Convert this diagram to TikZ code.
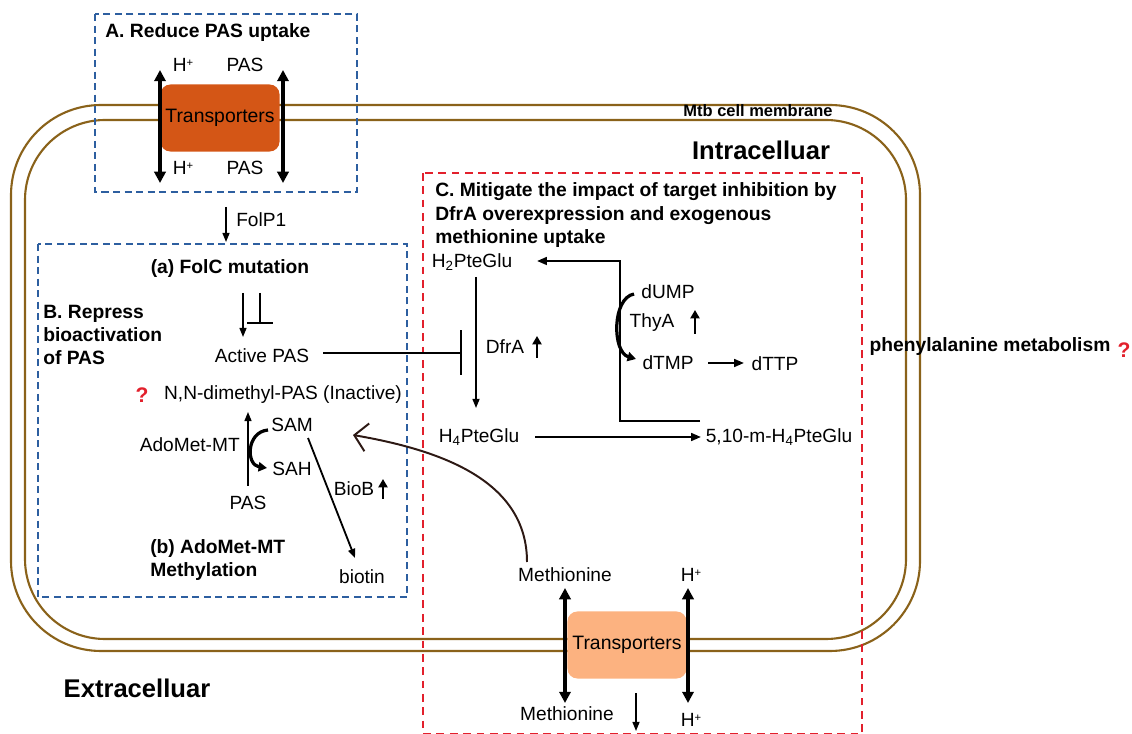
\documentclass[tikz,border=0pt]{standalone}
\usepackage{fontspec}
\setmainfont{Liberation Sans}
\usetikzlibrary{arrows.meta,positioning}

\definecolor{membranebrown}{RGB}{138,98,26}
\definecolor{dashblue}{RGB}{45,95,160}
\definecolor{dashred}{RGB}{226,32,44}
\definecolor{porterdark}{RGB}{212,86,22}
\definecolor{porterlight}{RGB}{252,178,128}
\definecolor{metcurve}{RGB}{45,25,20}

\newcommand{\proton}{H\raisebox{0.55ex}{\fontsize{8}{8}\selectfont +}}

\tikzset{
  lbl/.style={font=\fontsize{13.6}{16}\selectfont, inner sep=0pt},
  head/.style={font=\fontsize{13.7}{16.5}\selectfont\bfseries, inner sep=0pt, align=left},
  region/.style={font=\fontsize{18.2}{20}\selectfont\bfseries, inner sep=0pt},
  qmark/.style={font=\fontsize{15}{16}\selectfont\bfseries, text=dashred, inner sep=0pt},
  membrane/.style={draw=membranebrown, line width=1.5pt},
  groupB/.style={draw=dashblue, line width=1.2pt, dash pattern=on 5pt off 3.2pt},
  groupC/.style={draw=dashred, line width=1.1pt, dash pattern=on 5.5pt off 4pt},
  porter/.style={rounded corners=7pt, minimum width=2.975cm, minimum height=1.675cm,
    font=\fontsize{13.8}{16}\selectfont, inner sep=0pt},
  flux/.style={line width=2.2pt, {Triangle[length=8pt,width=8pt]}-{Triangle[length=8pt,width=8pt]}},
  rxn/.style={line width=1.1pt, -{Triangle[length=6.5pt,width=5pt]}},
  rxnbold/.style={line width=1.5pt, -{Triangle[length=7pt,width=5.5pt]}},
  upreg/.style={line width=2pt, -{Triangle[length=6pt,width=6.5pt]}},
  cosub/.style={line width=2.3pt, -{Triangle[length=6pt,width=6.5pt]}},
}

\begin{document}
\begin{tikzpicture}[x=0.025cm, y=-0.025cm]
\useasboundingbox (0,0) rectangle (1132,734);

% cell envelope
\draw[membrane, rounded corners=2.25cm] (11,105) rectangle (920,651);
\draw[membrane, rounded corners=2cm] (25,120) rectangle (906,639);
\node[font=\fontsize{11.7}{13}\selectfont\bfseries, inner sep=0pt] (mtb) at (758,111) {Mtb cell membrane};
\node[region] (intra) at (761,150) {Intracelluar};
\node[region] (extra) at (137,688) {Extracelluar};

% boxes
\draw[groupB] (95,14) rectangle (357,192);
\draw[groupB] (38,244) rectangle (407,597);
\draw[groupC] (423,173) rectangle (862,734);

% A. uptake through the transporter
\node[head, anchor=west] (headA) at (105,33) {A. Reduce PAS uptake};
\node[porter, fill=porterdark] (portA) at (220,118) {Transporters};
\node[lbl] (hinA) at (183,65) {\proton};
\node[lbl] (pasinA) at (245,65) {PAS};
\node[lbl] (houtA) at (183,168) {\proton};
\node[lbl] (pasoutA) at (245,168) {PAS};
\coordinate (hA1) at (160,70);  \coordinate (hA2) at (160,183);
\coordinate (pA1) at (283,70);  \coordinate (pA2) at (283,183);
\draw[flux] (hA1) -- (hA2);
\draw[flux] (pA1) -- (pA2);

% FolP1 step
\coordinate (f1) at (226,207); \coordinate (f2) at (226,242);
\draw[rxn] (f1) -- (f2);
\node[lbl, anchor=west] (folp) at (236,220) {FolP1};

% B. bioactivation
\node[head, anchor=west, font=\fontsize{13.7}{16.3}\selectfont\bfseries] (headB) at (43,335)
  {B. Repress\\bioactivation\\of PAS};
\node[head] (folc) at (230,269) {(a) FolC mutation};
\coordinate (fc1) at (243,293); \coordinate (fc2) at (243,337);
\coordinate (fc3) at (260,293); \coordinate (fc4) at (260,324);
\draw[rxn] (fc1) -- (fc2);
\draw[line width=1.1pt, -{Bar[width=18pt]}] (fc3) -- (fc4);
\node[lbl] (active) at (262,356) {Active PAS};
\node[qmark] (q1) at (142,395) {?};
\node[lbl] (nnd) at (283,395) {N,N-dimethyl-PAS (Inactive)};
\node[lbl] (pasb) at (248,503) {PAS};
\node[lbl, anchor=east] (adomet) at (240,445) {AdoMet-MT};
\node[lbl] (sam) at (292,425) {SAM};
\node[lbl] (sah) at (292,469) {SAH};
\coordinate (m1) at (248,486); \coordinate (m2) at (248,412);
\draw[rxn] (m1) -- (m2);
\coordinate (s1) at (268,430); \coordinate (s2) at (267,468);
\draw[cosub] (s1) .. controls (246,432) and (246,465) .. (s2);
\coordinate (b1) at (308,438); \coordinate (b2) at (355,558);
\draw[line width=1.3pt, -{Triangle[length=6.5pt,width=5pt]}] (b1) -- (b2);
\node[lbl] (biob) at (354,489) {BioB};
\coordinate (bu1) at (383,499); \coordinate (bu2) at (383,479);
\draw[upreg] (bu1) -- (bu2);
\node[lbl] (biotin) at (362,577) {biotin};
\node[head, anchor=west, font=\fontsize{13.7}{17}\selectfont\bfseries] (headBb) at (150,560)
  {(b) AdoMet-MT\\Methylation};

% C. folate cycle
\node[head, anchor=west, font=\fontsize{13.7}{16.7}\selectfont\bfseries] (headC) at (435,215.5)
  {C. Mitigate the impact of target inhibition by\\DfrA overexpression and exogenous\\methionine uptake};
\node[lbl] (h2) at (472,262) {H\textsubscript{2}PteGlu};
\node[lbl] (h4) at (479,437) {H\textsubscript{4}PteGlu};
\node[lbl] (m510) at (779,437) {5,10-m-H\textsubscript{4}PteGlu};
\coordinate (d1) at (476,277); \coordinate (d2) at (476,408);
\draw[rxn] (d1) -- (d2);
\node[lbl] (dfra) at (505,347) {DfrA};
\coordinate (du1) at (537,358); \coordinate (du2) at (537,336);
\draw[upreg] (du1) -- (du2);
\coordinate (act) at (323,353); \coordinate (actbar) at (462,353);
\draw[line width=1.5pt, -{Bar[width=32pt]}] (act) -- (actbar);
\coordinate (h4out) at (535,437); \coordinate (m510in) at (701,437);
\draw[rxnbold] (h4out) -- (m510in);
\coordinate (tback) at (700,421); \coordinate (thyleg) at (620,261);
\coordinate (h2in) at (537,261);
\draw[rxnbold] (tback) -| (thyleg) -- (h2in);

% thymidylate branch
\node[lbl] (dump) at (668,292) {dUMP};
\node[lbl] (thya) at (652,323) {ThyA};
\node[lbl] (dtmp) at (668,363) {dTMP};
\node[lbl] (dttp) at (775,364) {dTTP};
\coordinate (t1) at (634,294); \coordinate (t2) at (636,359);
\draw[cosub] (t1) .. controls (612,298) and (612,352) .. (t2);
\coordinate (tu1) at (695,334); \coordinate (tu2) at (695,310);
\draw[upreg] (tu1) -- (tu2);
\coordinate (tt1) at (708,363); \coordinate (tt2) at (744,363);
\draw[rxnbold] (tt1) -- (tt2);

\node[head] (phe) at (990,347) {phenylalanine metabolism};
\node[qmark] (q2) at (1124,350) {?};

% methionine uptake
\node[porter, fill=porterlight] (portB) at (627,645) {Transporters};
\node[lbl] (metin) at (565,575) {Methionine};
\node[lbl] (hinB) at (691,575) {\proton};
\node[lbl] (metout) at (567,714) {Methionine};
\node[lbl] (houtB) at (691,720) {\proton};
\coordinate (mB1) at (565,588); \coordinate (mB2) at (565,703);
\coordinate (hB1) at (688,588); \coordinate (hB2) at (688,703);
\draw[flux] (mB1) -- (mB2);
\draw[flux] (hB1) -- (hB2);
\coordinate (md1) at (636,693); \coordinate (md2) at (636,731);
\draw[rxn] (md1) -- (md2);
\coordinate (metsrc) at (527,562); \coordinate (samtip) at (353,435);
\draw[metcurve, line width=1.4pt, -{Straight Barb[length=9pt,width=20pt]}]
  (metsrc) .. controls (527,480) and (440,450) .. (samtip);

\end{tikzpicture}
\end{document}
